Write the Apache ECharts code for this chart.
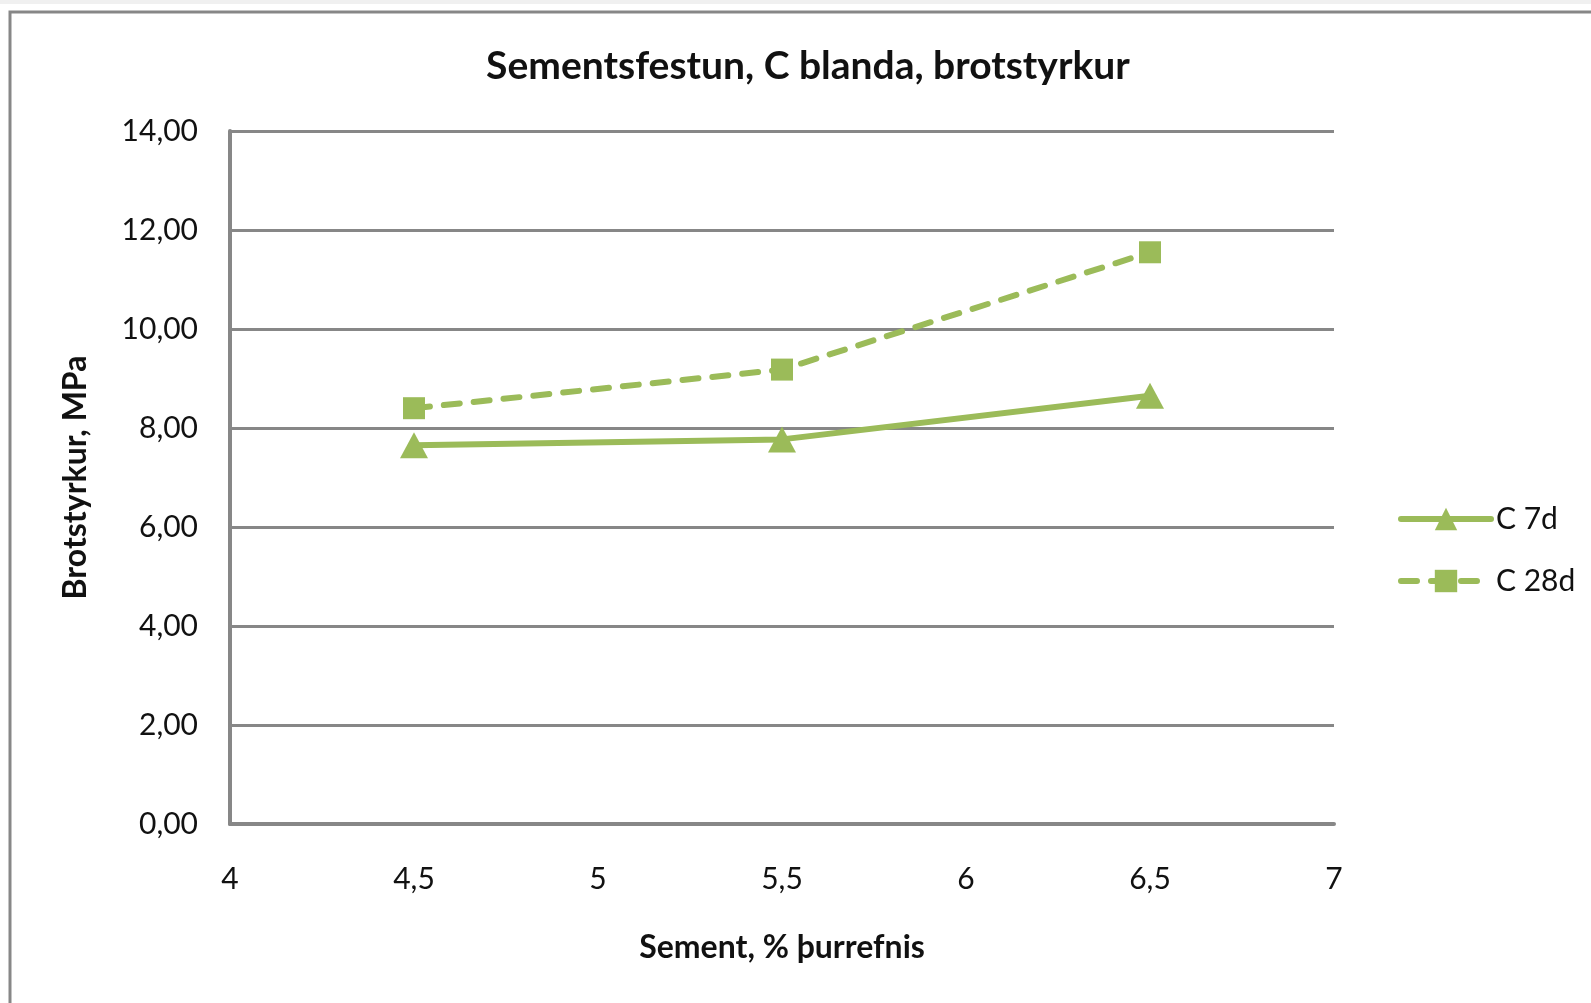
<!DOCTYPE html>
<html lang="is">
<head>
  <meta charset="UTF-8">
  <title>Sementsfestun, C blanda, brotstyrkur</title>
  <style>
    html, body { margin: 0; padding: 0; background: #fff; }
    #echart { width: 1591px; height: 1003px; }
  </style>
</head>
<body>
  <div id="echart"></div>
  <script src="https://cdn.jsdelivr.net/npm/echarts@6/dist/echarts.min.js"></script>
  <script>
    // sement % (x) og brotstyrkur MPa (y)
    var sement = [4.5, 5.5, 6.5];
    var c7d = [7.65, 7.77, 8.65];
    var c28d = [8.40, 9.18, 11.55];
    var yTicks = [0, 2, 4, 6, 8, 10, 12, 14];
    var xTicks = [4, 4.5, 5, 5.5, 6, 6.5, 7];

    var green = '#9bbb59';
    var grey = '#878787';
    var font = 'Lato';

    function pairs(ys) {
      return sement.map(function (x, i) { return [x, ys[i]]; });
    }

    var option = {
      animation: false,
      textStyle: { fontFamily: font },
      title: {
        text: 'Sementsfestun, C blanda, brotstyrkur',
        left: 803,
        textAlign: 'center',
        top: 42,
        textStyle: { fontFamily: font, fontSize: 39, fontWeight: 'bold', color: '#111' }
      },
      graphic: [
        { type: 'rect', z: -1, shape: { x: 0, y: 0, width: 1591, height: 4 }, style: { fill: '#f0f0f0' } },
        { type: 'rect', z: -1, shape: { x: 10, y: 12, width: 1700, height: 1100 },
          style: { fill: 'none', stroke: grey, lineWidth: 3 } }
      ],
      legend: {
        orient: 'vertical',
        left: 1393,
        top: 496,
        itemWidth: 90,
        itemHeight: 28,
        itemGap: 26,
        lineStyle: { width: 6 },
        textStyle: { fontFamily: font, fontSize: 30, color: '#111', lineHeight: 36, padding: [0, 0, 0, 0] },
        data: ['C 7d', 'C 28d']
      },
      grid: { left: 230, right: 257, top: 131, bottom: 179 },
      xAxis: {
        type: 'value',
        min: xTicks[0],
        max: xTicks[xTicks.length - 1],
        interval: 0.5,
        name: 'Sement, % þurrefnis',
        nameLocation: 'middle',
        nameGap: 108,
        nameTextStyle: { fontFamily: font, fontSize: 32, fontWeight: 'bold', color: '#111' },
        axisLine: { lineStyle: { color: grey, width: 4 } },
        axisTick: { show: false },
        splitLine: { show: false },
        axisLabel: {
          margin: 40,
          fontSize: 30,
          color: '#111',
          formatter: function (v) { return String(v).replace('.', ','); }
        }
      },
      yAxis: {
        type: 'value',
        min: yTicks[0],
        max: yTicks[yTicks.length - 1],
        interval: 2,
        name: 'Brotstyrkur, MPa',
        nameLocation: 'middle',
        nameGap: 138,
        nameTextStyle: { fontFamily: font, fontSize: 32, fontWeight: 'bold', color: '#111' },
        axisLine: { show: true, lineStyle: { color: grey, width: 4 } },
        axisTick: { show: false },
        splitLine: { lineStyle: { color: grey, width: 3 } },
        axisLabel: {
          margin: 32,
          fontSize: 30,
          color: '#111',
          formatter: function (v) { return v.toFixed(2).replace('.', ','); }
        }
      },
      series: [
        {
          name: 'C 7d',
          type: 'line',
          data: pairs(c7d),
          symbol: 'triangle',
          symbolSize: [28, 26],
          itemStyle: { color: green },
          lineStyle: { color: green, width: 6, cap: 'round' }
        },
        {
          name: 'C 28d',
          type: 'line',
          data: pairs(c28d),
          symbol: 'rect',
          symbolSize: 22,
          itemStyle: { color: green },
          lineStyle: { color: green, width: 6, type: [16, 14], cap: 'round' }
        }
      ]
    };

    var myChart = echarts.init(document.getElementById('echart'));
    myChart.setOption(option);
  </script>
</body>
</html>
